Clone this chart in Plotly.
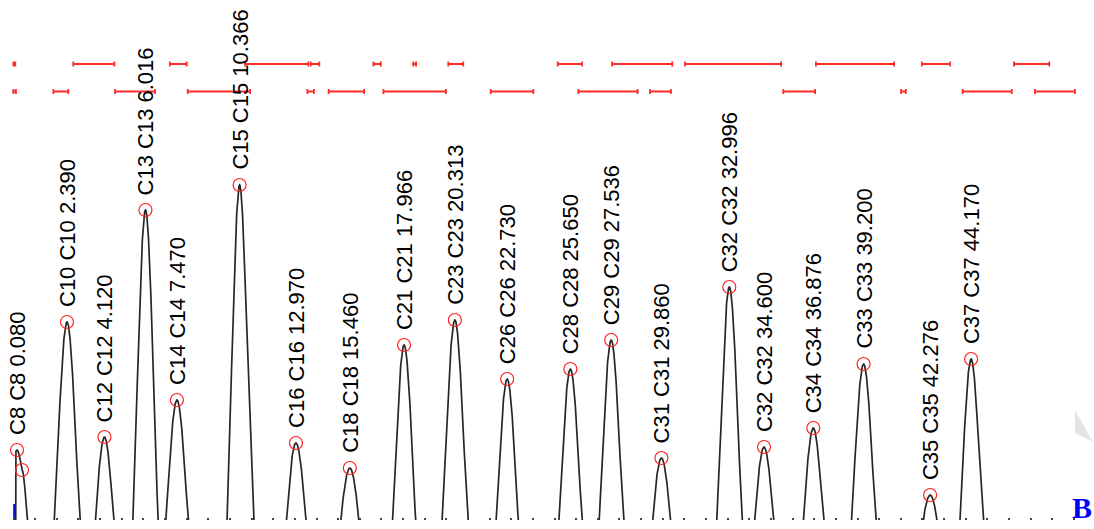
import numpy as np
import plotly.graph_objects as go

# ---------------- data ----------------
# peak apex retention times (min), apex heights (arbitrary units above the
# visible bottom edge) and half-widths at the bottom edge (min)
peak_names = ["C8", "", "C10", "C12", "C13", "C14", "C15", "C16", "C18", "C21",
              "C23", "C26", "C28", "C29", "C31", "C32", "C32", "C34", "C33",
              "C35", "C37"]
peak_times = [0.080, 0.310, 2.390, 4.120, 6.016, 7.470, 10.366, 12.970, 15.460,
              17.966, 20.313, 22.730, 25.650, 27.536, 29.860, 32.996, 34.600,
              36.876, 39.200, 42.276, 44.170]
peak_heights = [70, 50, 198, 83, 310, 120, 335, 77, 52, 175, 200, 141, 151, 180,
                62, 233, 73, 92, 156, 25, 161]
peak_halfwidths = [0.42, 0.23, 0.58, 0.42, 0.58, 0.51, 0.58, 0.46, 0.42, 0.53,
                   0.58, 0.51, 0.53, 0.55, 0.42, 0.58, 0.44, 0.46, 0.55, 0.32,
                   0.51]
signal_baseline = -160.0      # true baseline lies below the visible window
trace_start = 0.0
trace_end = 49.9

# window (integration) bars, two rows: start / end times (min)
row1_start = [-0.09, 2.68, 7.15, 10.62, 13.65, 16.55, 18.39, 20.01, 25.07,
              27.58, 30.95, 37.00, 41.90, 46.15]
row1_end = [0.00, 4.58, 7.92, 13.54, 14.05, 16.89, 18.52, 20.70, 26.19, 30.36,
            35.39, 40.61, 43.19, 47.78]
row2_start = [-0.09, 1.76, 4.61, 7.97, 13.50, 14.48, 17.01, 21.97, 26.02,
              29.33, 35.49, 40.93, 43.78, 47.12]
row2_end = [0.03, 2.45, 6.46, 10.85, 13.80, 16.12, 19.90, 23.94, 28.76, 30.30,
            36.96, 41.15, 46.05, 48.97]
row_levels = [456, 428.5]

# short blue start marker
start_marker_x = [-0.04, -0.04]
start_marker_y = [0, 16]

# ---------------- build the trace from the peak table ----------------
t = np.arange(trace_start, trace_end, 0.005)
t = np.unique(np.concatenate([t, np.array(peak_times)]))
sig = np.full_like(t, signal_baseline)
for t0, h, hw in zip(peak_times, peak_heights, peak_halfwidths):
    amp = h - signal_baseline
    sigma = hw / np.sqrt(2 * np.log(amp / -signal_baseline))
    sig = np.maximum(sig, signal_baseline + amp * np.exp(-(t - t0) ** 2 / (2 * sigma ** 2)))
x_line = np.concatenate([[trace_start], t])
y_line = np.concatenate([[signal_baseline], sig])

fig = go.Figure()

fig.add_trace(go.Scatter(x=x_line, y=y_line, mode="lines",
                         line=dict(color="#262626", width=1.7),
                         hoverinfo="skip", showlegend=False))

fig.add_trace(go.Scatter(x=start_marker_x, y=start_marker_y, mode="lines",
                         line=dict(color="#1010d0", width=2.5),
                         hoverinfo="skip", showlegend=False))

fig.add_trace(go.Scatter(x=peak_times, y=peak_heights, mode="markers",
                         marker=dict(symbol="circle-open", size=13,
                                     color="#ff2020", line=dict(width=1.2)),
                         showlegend=False))

for starts, ends, lvl in zip([row1_start, row2_start], [row1_end, row2_end], row_levels):
    s = np.array(starts)
    e = np.array(ends)
    fig.add_trace(go.Scatter(
        x=(s + e) / 2, y=[lvl] * len(s), mode="markers",
        marker=dict(size=1, color="rgba(0,0,0,0)"),
        error_x=dict(type="data", symmetric=True, array=(e - s) / 2,
                     color="#ff2a2a", thickness=1.8, width=2.5),
        hoverinfo="skip", showlegend=False))

annotations = []
for name, t0, h in zip(peak_names, peak_times, peak_heights):
    if not name:
        continue
    annotations.append(dict(
        x=t0, y=h, xref="x", yref="y", text=f"{name} {name} {t0:.3f}",
        showarrow=False, textangle=-90, xanchor="center", yanchor="bottom",
        yshift=13, font=dict(family="Liberation Sans, Arial", size=22,
                             color="#000000")))
annotations.append(dict(
    x=1.0, y=0.0, xref="paper", yref="paper", text="<b>B</b>",
    showarrow=False, xanchor="right", yanchor="bottom", yshift=-6, xshift=0,
    font=dict(family="Liberation Serif, Times New Roman", size=30,
              color="#0000ff")))

fig.update_layout(
    width=1094, height=529,
    margin=dict(l=0, r=0, t=0, b=9),
    paper_bgcolor="white", plot_bgcolor="white",
    annotations=annotations,
    shapes=[dict(type="path", xref="paper", yref="paper",
                 path="M 0.9826 0.2115 L 0.9826 0.1673 L 0.9991 0.15 Z",
                 fillcolor="#e4e4e4", line=dict(width=0), layer="below")],
    xaxis=dict(range=[-0.706, 49.849], showgrid=False, zeroline=False,
               showline=False, ticks="inside", ticklen=2, tickwidth=1.5,
               tickcolor="#444444", tick0=0.92, dtick=1,
               showticklabels=False),
    yaxis=dict(range=[0, 520], showgrid=False, zeroline=False,
               showline=False, showticklabels=False, ticks=""),
)

fig.write_html("out.html",
               config={"displayModeBar": False},
               post_script="document.body.style.margin='0';"
                           "document.body.style.overflow='hidden';")
